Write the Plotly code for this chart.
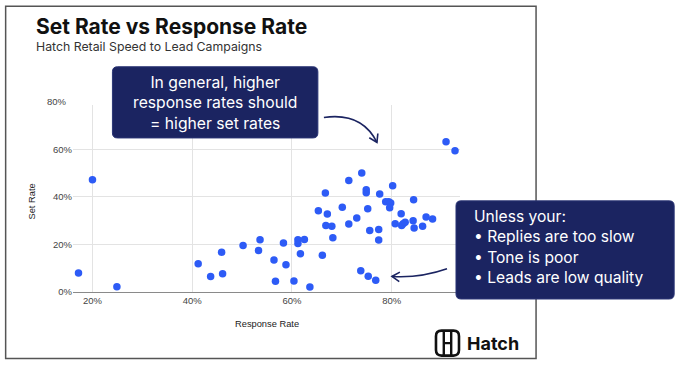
import math
import plotly.graph_objects as go

# ---------------- data (percent values) ----------------
response_rate = [17.2, 20.0, 24.9, 41.2, 43.7, 45.9, 46.1, 50.2, 53.6, 53.3,
                 56.4, 56.7, 58.3, 58.8, 60.4, 61.2, 61.2, 62.5, 61.7, 63.6,
                 65.3, 66.1, 66.7, 67.1, 66.8, 68.0, 68.2, 70.1, 71.4, 71.4,
                 73.0, 74.0, 74.9, 74.9, 75.2, 75.6, 77.4, 77.4, 77.6, 78.8,
                 79.4, 79.8, 79.6, 80.2, 80.7, 81.9, 82.0, 82.3, 82.7, 84.3,
                 84.5, 84.4, 86.2, 86.9, 88.2, 90.9, 92.7, 73.8, 75.3, 76.8]
set_rate = [8.0, 47.2, 2.2, 11.9, 6.5, 16.7, 7.7, 19.5, 22.0, 17.4,
            13.5, 4.5, 20.6, 11.5, 4.6, 22.0, 20.4, 22.1, 16.1, 2.1,
            34.1, 15.4, 41.6, 32.8, 27.9, 27.6, 22.8, 35.6, 46.9, 28.6,
            31.1, 50.0, 43.0, 41.7, 35.0, 25.9, 26.3, 21.9, 41.2, 37.9,
            37.9, 37.4, 35.4, 44.7, 28.7, 32.9, 27.9, 28.7, 29.3, 29.9,
            26.9, 38.8, 27.6, 31.5, 30.7, 63.2, 59.4, 8.9, 6.6, 4.9]

x_tick_vals = [20, 40, 60, 80]
x_tick_text = ["20%", "40%", "60%", "80%"]
y_tick_vals = [0, 20, 40, 60, 80]
y_tick_text = ["0%", "20%", "40%", "60%", "80%"]

title_text = "Set Rate vs Response Rate"
subtitle_text = "Hatch Retail Speed to Lead Campaigns"
x_title = "Response Rate"
y_title = "Set Rate"
note1_lines = ["In general, higher", "response rates should", "= higher set rates"]
note2_lines = ["Unless your:", "\u2022 Replies are too slow", "\u2022 Tone is poor",
               "\u2022 Leads are low quality"]
logo_text = "Hatch"

# ---------------- layout geometry ----------------
W, H = 680, 367
L, R, T, B = 73.3, 460.0, 105.0, 292.3
X_RANGE = [16.1, 93.7]
Y_RANGE = [0, 78.6]

NAVY = "#1b2461"
BLUE = "#2d5bf6"
AXIS_FONT = "Liberation Sans, Arial, sans-serif"
UI_FONT = "Inter, Roboto, sans-serif"


def px(x):
    return (x - L) / (R - L)


def py(y):
    return (B - y) / (B - T)


def pt(x, y):
    return f"{px(x):.5f},{py(y):.5f}"


def rrect(x0, y0, x1, y1, r):
    return (f"M {pt(x0 + r, y0)} L {pt(x1 - r, y0)} Q {pt(x1, y0)} {pt(x1, y0 + r)} "
            f"L {pt(x1, y1 - r)} Q {pt(x1, y1)} {pt(x1 - r, y1)} "
            f"L {pt(x0 + r, y1)} Q {pt(x0, y1)} {pt(x0, y1 - r)} "
            f"L {pt(x0, y0 + r)} Q {pt(x0, y0)} {pt(x0 + r, y0)} Z")


def arrow_head(tip, ctrl, length=9, spread=32):
    dx, dy = tip[0] - ctrl[0], tip[1] - ctrl[1]
    ang = math.atan2(dy, dx)
    pts = []
    for s in (-spread, spread):
        a = ang + math.pi + math.radians(s)
        pts.append((tip[0] + length * math.cos(a), tip[1] + length * math.sin(a)))
    return f"M {pt(*pts[0])} L {pt(*tip)} L {pt(*pts[1])}"


fig = go.Figure()
fig.add_trace(go.Scatter(
    x=response_rate, y=set_rate, mode="markers",
    marker=dict(size=7.5, color=BLUE, line=dict(width=0)),
    hoverinfo="skip", cliponaxis=False,
))

shapes = []
# outer frame
shapes.append(dict(type="rect", xref="paper", yref="paper",
                   x0=px(6), x1=px(536), y0=py(359), y1=py(6),
                   line=dict(color="#555555", width=1.5), fillcolor="rgba(0,0,0,0)",
                   layer="above"))
# note boxes
shapes.append(dict(type="path", xref="paper", yref="paper",
                   path=rrect(112.7, 66.7, 318, 138, 5),
                   fillcolor=NAVY, line=dict(color="#2b3575", width=1)))
shapes.append(dict(type="path", xref="paper", yref="paper",
                   path=rrect(456, 201, 674, 299.3, 5),
                   fillcolor=NAVY, line=dict(color="#2b3575", width=1)))
# curved arrows
a1s, a1c, a1t = (324, 117.5), (362, 112), (377, 142.5)
shapes.append(dict(type="path", xref="paper", yref="paper",
                   path=f"M {pt(*a1s)} Q {pt(*a1c)} {pt(*a1t)}",
                   line=dict(color=NAVY, width=1.6)))
shapes.append(dict(type="path", xref="paper", yref="paper",
                   path=arrow_head(a1t, a1c), line=dict(color=NAVY, width=1.6)))
a2s, a2c, a2t = (447, 269), (420, 278.5), (392, 276.7)
shapes.append(dict(type="path", xref="paper", yref="paper",
                   path=f"M {pt(*a2s)} Q {pt(*a2c)} {pt(*a2t)}",
                   line=dict(color=NAVY, width=1.6)))
shapes.append(dict(type="path", xref="paper", yref="paper",
                   path=arrow_head(a2t, a2c), line=dict(color=NAVY, width=1.6)))
# logo icon
shapes.append(dict(type="path", xref="paper", yref="paper",
                   path=rrect(436, 331, 459, 356, 5.5),
                   line=dict(color="#111111", width=2.6)))
shapes.append(dict(type="path", xref="paper", yref="paper",
                   path=(f"M {pt(443.8, 331)} L {pt(443.8, 356)} "
                         f"M {pt(451.2, 331)} L {pt(451.2, 356)} "
                         f"M {pt(443.8, 343.5)} L {pt(451.2, 343.5)}"),
                   line=dict(color="#111111", width=2.4)))

ann = []
ann.append(dict(text=f"<b>{title_text}</b>", xref="paper", yref="paper",
                x=px(34), y=py(26.5), xanchor="left", yanchor="middle", showarrow=False,
                font=dict(family=UI_FONT, size=21, color="#111111")))
ann.append(dict(text=subtitle_text, xref="paper", yref="paper",
                x=px(34.5), y=py(46.5), xanchor="left", yanchor="middle", showarrow=False,
                font=dict(family=UI_FONT, size=12.3, color="#333333")))
ann.append(dict(text=x_title, xref="paper", yref="paper",
                x=0.5, y=py(324.7), xanchor="center", yanchor="middle", showarrow=False,
                font=dict(family=AXIS_FONT, size=9.3, color="#222222")))
ann.append(dict(text=y_title, xref="paper", yref="paper", textangle=-90,
                x=px(32), y=py(202), xanchor="center", yanchor="middle", showarrow=False,
                font=dict(family=AXIS_FONT, size=9.3, color="#222222")))
# top tick label that sits above the plotted range
for v, t in zip(y_tick_vals, y_tick_text):
    if v > Y_RANGE[1]:
        ann.append(dict(text=t, xref="paper", yref="paper", x=0,
                        y=(v - Y_RANGE[0]) / (Y_RANGE[1] - Y_RANGE[0]),
                        xanchor="right", yanchor="middle", xshift=-4, showarrow=False,
                        font=dict(family=AXIS_FONT, size=9.5, color="#444444")))
ann.append(dict(text="<br>".join(note1_lines), xref="paper", yref="paper", x=px(215.3),
                y=py(103.2), xanchor="center", yanchor="middle", align="center",
                showarrow=False, font=dict(family=UI_FONT, size=15.7, color="white")))
ann.append(dict(text="<br>".join(note2_lines), xref="paper", yref="paper", x=px(471.5),
                y=py(247.5), xanchor="left", yanchor="middle", align="left",
                showarrow=False, font=dict(family=UI_FONT, size=15.6, color="white")))
ann.append(dict(text=f"<b>{logo_text}</b>", xref="paper", yref="paper",
                x=px(464.5), y=py(343.5), xanchor="left", yanchor="middle", showarrow=False,
                font=dict(family=UI_FONT, size=18, color="#111111")))

fig.update_layout(
    width=W, height=H,
    margin=dict(l=L, r=W - R, t=T, b=H - B, pad=0),
    paper_bgcolor="white", plot_bgcolor="white",
    showlegend=False,
    xaxis=dict(range=X_RANGE, tickvals=x_tick_vals, ticktext=x_tick_text,
               showgrid=True, gridcolor="#e3e3e3", gridwidth=1, zeroline=False,
               showline=True, linecolor="#8a8a8a", linewidth=1, ticks="",
               tickfont=dict(family=AXIS_FONT, size=9.5, color="#444444"),
               fixedrange=True),
    yaxis=dict(range=Y_RANGE, tickvals=[v for v in y_tick_vals if v <= Y_RANGE[1]],
               ticktext=[t for v, t in zip(y_tick_vals, y_tick_text) if v <= Y_RANGE[1]],
               showgrid=True, gridcolor="#e3e3e3", gridwidth=1, zeroline=False,
               showline=False, ticks="",
               tickfont=dict(family=AXIS_FONT, size=9.5, color="#444444"),
               fixedrange=True),
    shapes=shapes, annotations=ann,
)

fig.write_html("out.html", config={"displayModeBar": False},
               post_script="document.body.style.margin='0';document.body.style.padding='0';"
                           "document.body.style.overflow='hidden';")
